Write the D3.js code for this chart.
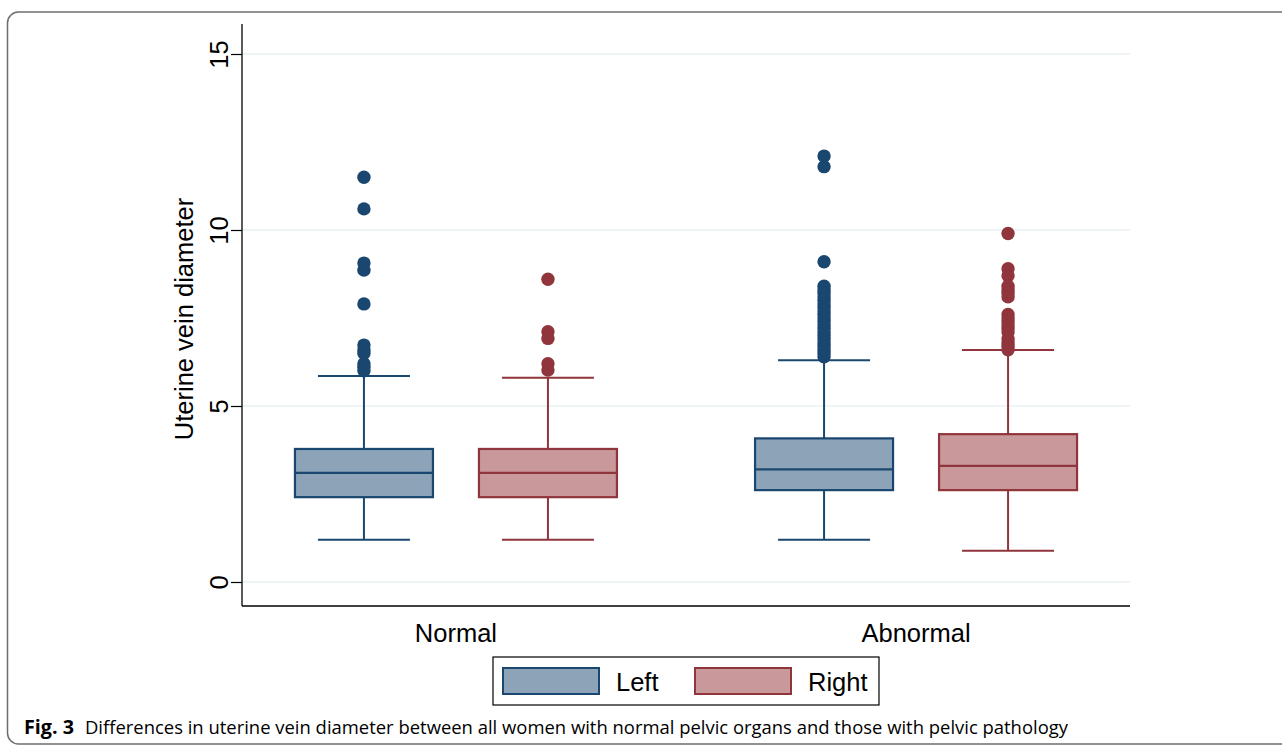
<!DOCTYPE html>
<html>
<head>
<meta charset="utf-8">
<script src="https://cdn.jsdelivr.net/npm/d3@7"></script>
<style>
  body { margin: 0; background: #fff; }
  svg text { font-family: "Liberation Sans", Arial, sans-serif; fill: #000; }
  .caption text { font-family: "Liberation Sans Narrow", "Open Sans", sans-serif; }
</style>
</head>
<body>
<div class="chart"></div>
<script>
  // data
  var groups = ['Normal', 'Abnormal'];
  var sides = ['Left', 'Right'];
  var yTicks = [0, 5, 10, 15];

  // [lower whisker, Q1, median, Q3, upper whisker] per group, per side
  var leftStats = [[1.2, 2.41, 3.1, 3.78, 5.85], [1.2, 2.61, 3.2, 4.08, 6.3]];
  var rightStats = [[1.2, 2.41, 3.1, 3.78, 5.8], [0.89, 2.61, 3.3, 4.2, 6.59]];

  var leftOutliers = [
    [11.5, 10.6, 9.06, 8.86, 7.9, 6.73, 6.6, 6.5, 6.2, 6.1, 6.0],
    [12.1, 11.8, 9.1, 8.4, 8.3, 8.2, 8.1, 8.0, 7.9, 7.8, 7.7, 7.6, 7.5, 7.4, 7.3, 7.2, 7.1, 7.0, 6.9, 6.8, 6.7, 6.6, 6.5, 6.4]
  ];
  var rightOutliers = [
    [8.6, 7.11, 6.92, 6.2, 6.02],
    [9.9, 8.9, 8.7, 8.4, 8.3, 8.2, 8.1, 7.6, 7.5, 7.4, 7.3, 7.2, 7.1, 6.9, 6.8, 6.7, 6.6]
  ];

  var width = 1282;
  var height = 747;

  var colors = {
    Left: { stroke: '#1a476f', fill: '#8ca3b8' },
    Right: { stroke: '#90353b', fill: '#c8989b' }
  };

  var svg = d3.select('.chart')
    .append('svg')
    .attr('width', width)
    .attr('height', height);

  // outer figure frame (rounded, runs off to the right)
  svg.append('rect')
    .attr('x', 7.5).attr('y', 12)
    .attr('width', 1300).attr('height', 732)
    .attr('rx', 11)
    .attr('fill', 'none')
    .attr('stroke', '#6e6e6e')
    .attr('stroke-width', 1.5);

  var plotLeft = 242, plotRight = 1130, plotTop = 24, plotBottom = 606;

  var y = d3.scaleLinear().domain([0, 15]).range([582, 54]);

  var x0 = d3.scalePoint().domain(groups).range([plotLeft, plotRight]).padding(0.465);
  var x1 = d3.scalePoint().domain(sides).range([-92, 92]);
  var boxW = 138, capW = 92;

  // gridlines
  svg.append('g').selectAll('line')
    .data(yTicks)
    .enter().append('line')
    .attr('x1', plotLeft).attr('x2', plotRight)
    .attr('y1', function(d){ return y(d) })
    .attr('y2', function(d){ return y(d) })
    .attr('stroke', '#eaf2f3')
    .attr('stroke-width', 1.5);

  // y axis
  var yAxis = svg.append('g')
    .attr('transform', 'translate(' + plotLeft + ',0)')
    .call(d3.axisLeft(y).tickValues(yTicks).tickSize(11).tickPadding(0).tickFormat(d3.format('d')));
  yAxis.select('.domain').remove();
  yAxis.selectAll('.tick line').attr('stroke', '#000').attr('stroke-width', 1.2);
  yAxis.selectAll('.tick text')
    .attr('font-size', 25.5)
    .attr('text-anchor', 'middle')
    .attr('x', 0).attr('dy', 0)
    .attr('transform', 'translate(-21,0) rotate(-90)')
    .attr('dominant-baseline', 'middle');

  svg.append('line')
    .attr('x1', plotLeft).attr('x2', plotLeft)
    .attr('y1', plotTop).attr('y2', plotBottom)
    .attr('stroke', '#000').attr('stroke-width', 1.3);
  svg.append('line')
    .attr('x1', plotLeft).attr('x2', plotRight)
    .attr('y1', plotBottom).attr('y2', plotBottom)
    .attr('stroke', '#000').attr('stroke-width', 1.3);

  svg.append('text')
    .attr('transform', 'translate(193,' + ((198 + 440) / 2) + ') rotate(-90)')
    .attr('text-anchor', 'middle')
    .attr('font-size', 25.5)
    .text('Uterine vein diameter');

  // category labels
  svg.append('g').selectAll('text')
    .data(groups)
    .enter().append('text')
    .attr('x', function(d){ return x0(d) })
    .attr('y', 642)
    .attr('text-anchor', 'middle')
    .attr('font-size', 25.5)
    .text(function(d){ return d });

  // build box data
  var boxes = [];
  groups.forEach(function(g, i){
    boxes.push({ group: g, side: 'Left', s: leftStats[i], out: leftOutliers[i] });
    boxes.push({ group: g, side: 'Right', s: rightStats[i], out: rightOutliers[i] });
  });

  var box = svg.append('g').selectAll('.box')
    .data(boxes)
    .enter().append('g')
    .attr('class', 'box')
    .attr('transform', function(d){ return 'translate(' + (x0(d.group) + x1(d.side)) + ',0)' });

  // whiskers
  box.append('line')
    .attr('x1', 0).attr('x2', 0)
    .attr('y1', function(d){ return y(d.s[0]) })
    .attr('y2', function(d){ return y(d.s[4]) })
    .attr('stroke', function(d){ return colors[d.side].stroke })
    .attr('stroke-width', 2);
  [0, 4].forEach(function(k){
    box.append('line')
      .attr('x1', -capW / 2).attr('x2', capW / 2)
      .attr('y1', function(d){ return y(d.s[k]) })
      .attr('y2', function(d){ return y(d.s[k]) })
      .attr('stroke', function(d){ return colors[d.side].stroke })
      .attr('stroke-width', 2);
  });

  box.append('rect')
    .attr('x', -boxW / 2)
    .attr('width', boxW)
    .attr('y', function(d){ return y(d.s[3]) })
    .attr('height', function(d){ return y(d.s[1]) - y(d.s[3]) })
    .attr('fill', function(d){ return colors[d.side].fill })
    .attr('stroke', function(d){ return colors[d.side].stroke })
    .attr('stroke-width', 2.2);

  box.append('line')
    .attr('x1', -boxW / 2).attr('x2', boxW / 2)
    .attr('y1', function(d){ return y(d.s[2]) })
    .attr('y2', function(d){ return y(d.s[2]) })
    .attr('stroke', function(d){ return colors[d.side].stroke })
    .attr('stroke-width', 2.2);

  // outliers
  box.selectAll('circle')
    .data(function(d){ return d.out.map(function(v){ return { v: v, side: d.side } }) })
    .enter().append('circle')
    .attr('cx', 0)
    .attr('cy', function(d){ return y(d.v) })
    .attr('r', 6.7)
    .attr('fill', function(d){ return colors[d.side].stroke });

  // legend
  var legend = svg.append('g');
  legend.append('rect')
    .attr('x', 493).attr('y', 657)
    .attr('width', 386).attr('height', 48)
    .attr('fill', '#fff').attr('stroke', '#000').attr('stroke-width', 1.2);

  var legendX = d3.scalePoint().domain(sides).range([503, 695]);
  var item = legend.selectAll('.item')
    .data(sides)
    .enter().append('g')
    .attr('transform', function(d){ return 'translate(' + legendX(d) + ',668)' });
  item.append('rect')
    .attr('width', 96).attr('height', 26)
    .attr('fill', function(d){ return colors[d].fill })
    .attr('stroke', function(d){ return colors[d].stroke })
    .attr('stroke-width', 2);
  item.append('text')
    .attr('x', 113).attr('y', 23)
    .attr('font-size', 25.5)
    .text(function(d){ return d });

  // caption
  var cap = svg.append('g').attr('class', 'caption');
  cap.append('text')
    .attr('x', 24).attr('y', 734)
    .attr('font-size', 19)
    .attr('font-weight', 'bold')
    .attr('textLength', 50)
    .attr('lengthAdjust', 'spacingAndGlyphs')
    .text('Fig. 3');
  cap.append('text')
    .attr('x', 85).attr('y', 734)
    .attr('font-size', 19)
    .attr('textLength', 983)
    .attr('lengthAdjust', 'spacingAndGlyphs')
    .text('Differences in uterine vein diameter between all women with normal pelvic organs and those with pelvic pathology');
</script>
</body>
</html>
